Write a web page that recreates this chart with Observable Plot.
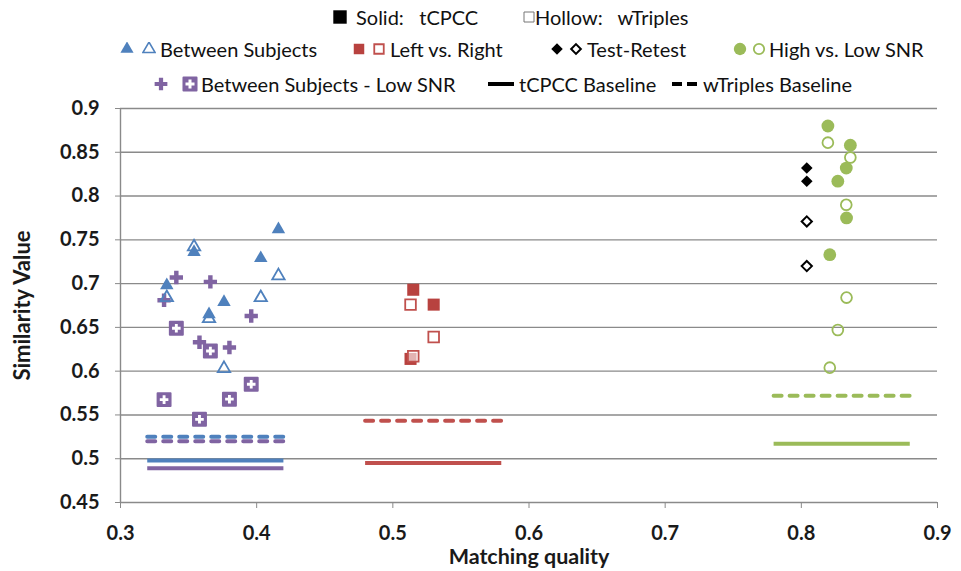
<!DOCTYPE html>
<html>
<head>
<meta charset="utf-8">
<script src="https://cdn.jsdelivr.net/npm/d3@7"></script>
<script src="https://cdn.jsdelivr.net/npm/@observablehq/plot@0.6"></script>
<style>
  body { margin: 0; background: #fff; font-family: Lato, "Open Sans", sans-serif; }
  #legend { position: relative; width: 961px; height: 100px; }
  .item { position: absolute; display: flex; align-items: center; white-space: nowrap;
          font-size: 20px; color: #111; transform: translateY(-50%); }
  .item svg { display: block; }
</style>
</head>
<body>
<div id="legend"></div>
<div id="chart"></div>
<script>
// Matching quality (x) and similarity values (y) per comparison group
const betweenX = [0.334, 0.354, 0.365, 0.376, 0.403, 0.416];
const betweenTcpcc = [0.698, 0.736, 0.665, 0.679, 0.729, 0.762];
const betweenWtriples = [0.684, 0.742, 0.660, 0.603, 0.684, 0.709];

const leftRightX = [0.513, 0.515, 0.530];
const leftRightTcpcc = [0.614, 0.693, 0.676];
const leftRightWtriples = [0.676, 0.617, 0.639];

const testRetestX = [0.804, 0.804];
const testRetestTcpcc = [0.832, 0.817];
const testRetestWtriples = [0.771, 0.720];

const snrX = [0.8195, 0.8209, 0.8268, 0.8330, 0.8332, 0.8360];
const snrTcpcc = [0.880, 0.733, 0.817, 0.832, 0.775, 0.858];
const snrWtriples = [0.861, 0.604, 0.647, 0.790, 0.684, 0.844];

const lowSnrX = [0.332, 0.341, 0.358, 0.366, 0.380, 0.396];
const lowSnrTcpcc = [0.681, 0.707, 0.633, 0.702, 0.627, 0.663];
const lowSnrWtriples = [0.5675, 0.649, 0.545, 0.623, 0.568, 0.585];

// Baselines: group, x extent, tCPCC level, wTriples level
const baselineGroups = ["Between Subjects", "Between Subjects - Low SNR", "Left vs. Right", "High vs. Low SNR"];
const baselineFrom = [0.32, 0.32, 0.48, 0.78];
const baselineTo = [0.42, 0.42, 0.58, 0.88];
const baselineTcpcc = [0.498, 0.489, 0.495, 0.517];
const baselineWtriples = [0.525, 0.520, 0.5435, 0.572];

const xTicks = [0.3, 0.4, 0.5, 0.6, 0.7, 0.8, 0.9];
const yTicks = [0.45, 0.5, 0.55, 0.6, 0.65, 0.7, 0.75, 0.8, 0.85, 0.9];

const colors = {
  "Between Subjects": "#4F81BD",
  "Left vs. Right": "#C0504D",
  "Test-Retest": "#000000",
  "High vs. Low SNR": "#9BBB59",
  "Between Subjects - Low SNR": "#8064A2"
};
const solidRed = "#B8423F";

const pts = (xs, ys) => xs.map((x, i) => ({x, y: ys[i]}));
const baselines = baselineGroups.map((g, i) => ({
  group: g, x1: baselineFrom[i], x2: baselineTo[i], tcpcc: baselineTcpcc[i], wtriples: baselineWtriples[i]
}));

const fmt = d => String(+d.toFixed(2));

const chart = Plot.plot({
  width: 961,
  height: 471,
  marginTop: 8,
  marginBottom: 69,
  marginLeft: 120,
  marginRight: 24,
  style: {fontFamily: "Lato, 'Open Sans', sans-serif", background: "#fff", overflow: "visible"},
  x: {domain: [0.3, 0.9]},
  y: {domain: [0.45, 0.9]},
  marks: [
    Plot.gridY(yTicks, {stroke: "#8a8a8a", strokeOpacity: 1, strokeWidth: 1.4}),
    Plot.ruleX([0.3], {stroke: "#8a8a8a", strokeWidth: 1.4}),
    Plot.axisX({ticks: xTicks, tickFormat: d => d.toFixed(1), tickSize: 6, tickPadding: 17,
      stroke: "#8a8a8a", fontSize: 20, fontWeight: "bold", fill: "#1a1a1a", label: null}),
    Plot.axisY({ticks: yTicks, tickFormat: fmt, tickSize: 5, tickPadding: 16,
      stroke: "#8a8a8a", fontSize: 20, fontWeight: "bold", fill: "#1a1a1a", label: null}),
    Plot.text(["Matching quality"], {frameAnchor: "bottom", lineAnchor: "middle", textAnchor: "middle",
      dy: 55, fontSize: 21.5, fontWeight: "bold", fill: "#1a1a1a"}),
    Plot.text(["Similarity Value"], {frameAnchor: "left", textAnchor: "middle", lineAnchor: "middle",
      dx: -98, rotate: -90, fontSize: 22, fontWeight: "bold", fill: "#1a1a1a"}),

    // baselines
    Plot.ruleY(baselines, {y: "wtriples", x1: "x1", x2: "x2", stroke: d => colors[d.group],
      strokeWidth: 4, strokeDasharray: "8,8", strokeLinecap: "round"}),
    Plot.ruleY(baselines, {y: "tcpcc", x1: "x1", x2: "x2", stroke: d => colors[d.group],
      strokeWidth: 4}),

    // Between Subjects - Low SNR
    Plot.dot(pts(lowSnrX, lowSnrWtriples), {x: "x", y: "y", symbol: "square", r: 7.3,
      fill: colors["Between Subjects - Low SNR"], stroke: colors["Between Subjects - Low SNR"], strokeWidth: 2, strokeLinejoin: "round"}),
    Plot.dot(pts(lowSnrX, lowSnrWtriples), {x: "x", y: "y", symbol: "cross", r: 3.6, fill: "#fff"}),
    Plot.dot(pts(lowSnrX, lowSnrTcpcc), {x: "x", y: "y", symbol: "cross", r: 5.6,
      fill: colors["Between Subjects - Low SNR"]}),

    // Between Subjects
    Plot.dot(pts(betweenX, betweenTcpcc), {x: "x", y: "y", symbol: "triangle", r: 5,
      fill: colors["Between Subjects"]}),
    Plot.dot(pts(betweenX, betweenWtriples), {x: "x", y: "y", symbol: "triangle", r: 4.6,
      fill: "none", stroke: colors["Between Subjects"], strokeWidth: 1.8}),

    // Left vs. Right
    Plot.dot(pts(leftRightX, leftRightTcpcc), {x: "x", y: "y", symbol: "square", r: 6.8, fill: solidRed}),
    Plot.dot(pts(leftRightX, leftRightWtriples), {x: "x", y: "y", symbol: "square", r: 6,
      fill: "#fff", fillOpacity: 0.6, stroke: colors["Left vs. Right"], strokeWidth: 1.8}),

    // Test-Retest
    Plot.dot(pts(testRetestX, testRetestTcpcc), {x: "x", y: "y", symbol: "diamond2", r: 5.2, fill: "#000"}),
    Plot.dot(pts(testRetestX, testRetestWtriples), {x: "x", y: "y", symbol: "diamond2", r: 4.6,
      fill: "#fff", stroke: "#000", strokeWidth: 2}),

    // High vs. Low SNR
    Plot.dot(pts(snrX, snrTcpcc), {x: "x", y: "y", r: 6.4, fill: colors["High vs. Low SNR"]}),
    Plot.dot(pts(snrX, snrWtriples), {x: "x", y: "y", r: 5.4,
      fill: "none", stroke: colors["High vs. Low SNR"], strokeWidth: 1.8})
  ]
});
document.getElementById("chart").appendChild(chart);

// Legend above the chart
const legend = d3.select("#legend");
function icon(draw, w = 14, h = 14) {
  const svg = d3.create("svg").attr("width", w).attr("height", h);
  draw(svg, w, h);
  return svg.node();
}
const sym = (type, size) => d3.symbol(type, size)();
function glyph(type, size, fill, stroke, sw) {
  return (s, w, h) => s.append("path").attr("transform", `translate(${w / 2},${h / 2})`)
    .attr("d", sym(type, size)).attr("fill", fill).attr("stroke", stroke || "none").attr("stroke-width", sw || 0);
}
// icons: list of svg nodes; gap: space between icons; pad: space before the label
function addItem(x, y, icons, label, gap, pad) {
  const el = legend.append("div").attr("class", "item").style("left", x + "px").style("top", y + "px");
  icons.forEach((ic, i) => {
    const node = el.node().appendChild(ic);
    d3.select(node).style("margin-right", (i < icons.length - 1 ? gap : pad) + "px");
  });
  el.append("span").html(label);
}

addItem(333, 17, [icon(glyph(d3.symbolSquare, 180, "#000"), 14, 14)], "Solid:&nbsp;&nbsp;&nbsp;tCPCC", 0, 9);
addItem(523, 17, [icon(glyph(d3.symbolSquare, 100, "#fff", "#777", 1), 12, 14)], "Hollow:&nbsp;&nbsp;&nbsp;wTriples", 0, 0);

addItem(120, 49, [icon(glyph(d3.symbolTriangle, 75, colors["Between Subjects"])),
  icon(glyph(d3.symbolTriangle, 62, "#fff", colors["Between Subjects"], 1.6))], "Between Subjects", 8, 4);
addItem(352, 49, [icon(glyph(d3.symbolSquare, 110, solidRed)),
  icon(glyph(d3.symbolSquare, 90, "#fff", colors["Left vs. Right"], 1.8))], "Left vs. Right", 6, 4);
addItem(550, 49, [icon(glyph(d3.symbolDiamond2, 85, "#000")),
  icon(glyph(d3.symbolDiamond2, 60, "#fff", "#000", 2))], "Test-Retest", 5, 4);
addItem(733, 49, [icon(glyph(d3.symbolCircle, 120, colors["High vs. Low SNR"])),
  icon(glyph(d3.symbolCircle, 85, "#fff", colors["High vs. Low SNR"], 1.8))], "High vs. Low SNR", 5, 3);

const lowSnrIcon = (s, w, h) => {
  s.append("path").attr("transform", `translate(${w / 2},${h / 2})`).attr("d", sym(d3.symbolSquare, 170))
    .attr("fill", colors["Between Subjects - Low SNR"]).attr("stroke", colors["Between Subjects - Low SNR"])
    .attr("stroke-width", 2).attr("stroke-linejoin", "round");
  s.append("path").attr("transform", `translate(${w / 2},${h / 2})`).attr("d", sym(d3.symbolCross, 45)).attr("fill", "#fff");
};
addItem(154, 84, [icon(glyph(d3.symbolCross, 90, colors["Between Subjects - Low SNR"])),
  icon(lowSnrIcon, 16, 16)], "Between Subjects - Low SNR", 14, 3);
const lineIcon = dash => (s, w, h) => s.append("line").attr("x1", 2).attr("x2", w - 2).attr("y1", h / 2).attr("y2", h / 2)
  .attr("stroke", "#000").attr("stroke-width", 4).attr("stroke-dasharray", dash || null);
addItem(486, 84, [icon(lineIcon(null), 30, 14)], "tCPCC Baseline", 0, 3);
addItem(670, 84, [icon(lineIcon("10,5"), 30, 14)], "wTriples Baseline", 0, 3);
</script>
</body>
</html>
